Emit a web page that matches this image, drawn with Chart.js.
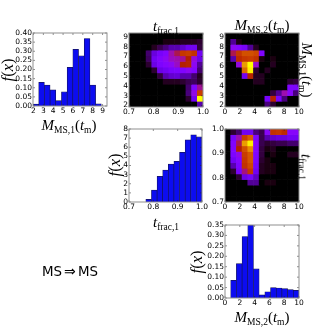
<!DOCTYPE html>
<html>
<head>
<meta charset="utf-8">
<script src="https://cdn.jsdelivr.net/npm/chart.js@4/dist/chart.umd.js"></script>
<style>
  html, body { margin: 0; padding: 0; background: #fff; overflow: hidden; }
  #page { position: relative; width: 332px; height: 332px; }
  canvas { position: absolute; left: 0; top: 0; }
  .lbl { position: absolute; white-space: nowrap; color: #000; font-family: "Liberation Serif", serif; font-size: 15px; line-height: 1; }
  .lbl i { font-style: italic; }
  .lbl sub { font-size: 9.5px; vertical-align: -3px; line-height: 0; }
  .fx { font-size: 16.5px; }
  .note { font-family: "DejaVu Sans", sans-serif; font-size: 13.4px; }
  .note span { font-family: "Liberation Serif", serif; font-size: 14px; margin: 0 2px; }
</style>
</head>
<body>
<div id="page"></div>
<script>
const binCount = 13;

// tick labels
const massTicks1 = [2, 3, 4, 5, 6, 7, 8, 9];
const massTicks2 = [0, 2, 4, 6, 8, 10];
const fracTicks = [0.7, 0.8, 0.9, 1.0];
const hist1Ticks = [0, 0.05, 0.1, 0.15, 0.2, 0.25, 0.3, 0.35, 0.4];
const hist2Ticks = [0, 1, 2, 3, 4, 5, 6, 7, 8];
const hist3Ticks = [0, 0.05, 0.1, 0.15, 0.2, 0.25, 0.3, 0.35];

// histogram heights, one per bin
const hist1Values = [0.01, 0.13, 0.115, 0.088, 0.03, 0.078, 0.212, 0.31, 0.275, 0.37, 0.115, 0.012, 0];
const hist2Values = [0, 0, 0, 0.3, 1.3, 2.8, 3.5, 4.15, 4.45, 5.45, 6.8, 7.35, 7.15];
const hist3Values = [0, 0.085, 0.165, 0.295, 0.35, 0.14, 0.015, 0.03, 0.05, 0.048, 0.045, 0.04, 0.037];

// heatmap intensities, rows listed from the top of the picture
const heatFracMass = [
  [0, 0, 0, 0, 0, 0, 0, 0, 0, 0, 0, 0, 0],
  [0, 0, 0, 0, 0, 0, 0.01, 0.01, 0.01, 0.02, 0.02, 0.02, 0.03],
  [0, 0, 0, 0, 0.02, 0.05, 0.08, 0.12, 0.12, 0.15, 0.2, 0.2, 0.04],
  [0, 0, 0, 0.07, 0.17, 0.22, 0.26, 0.38, 0.45, 0.6, 0.62, 0.58, 0.2],
  [0, 0, 0, 0.06, 0.2, 0.26, 0.3, 0.36, 0.38, 0.4, 0.5, 0.33, 0.18],
  [0, 0, 0, 0.03, 0.18, 0.24, 0.27, 0.3, 0.36, 0.5, 0.52, 0.3, 0.1],
  [0, 0, 0, 0, 0.03, 0.18, 0.2, 0.23, 0.24, 0.25, 0.3, 0.26, 0.07],
  [0, 0, 0, 0, 0, 0.04, 0.12, 0.15, 0.16, 0.12, 0.12, 0.07, 0.02],
  [0, 0, 0, 0, 0, 0, 0.02, 0.02, 0.02, 0.03, 0.05, 0.06, 0.03],
  [0, 0, 0, 0, 0, 0, 0, 0, 0, 0, 0.07, 0.25, 0.4],
  [0, 0, 0, 0, 0, 0, 0, 0, 0, 0, 0.08, 0.32, 0.62],
  [0, 0, 0, 0, 0, 0, 0, 0, 0, 0, 0.03, 0.2, 1.0],
  [0, 0, 0, 0, 0, 0, 0, 0, 0, 0, 0, 0, 0.12]
];
const heatMassMass = [
  [0, 0, 0, 0, 0, 0, 0, 0, 0, 0, 0, 0, 0],
  [0, 0.1, 0.01, 0, 0, 0, 0, 0, 0, 0, 0, 0, 0],
  [0, 0.3, 0.27, 0.22, 0.1, 0.02, 0, 0, 0, 0, 0, 0, 0],
  [0, 0.45, 0.6, 0.68, 0.68, 0.65, 0.25, 0, 0, 0, 0, 0, 0],
  [0, 0.12, 0.55, 0.6, 0.62, 0.58, 0.01, 0, 0.01, 0, 0, 0, 0],
  [0, 0, 0.33, 0.85, 1.0, 0.35, 0, 0, 0.02, 0, 0, 0, 0],
  [0, 0, 0, 0.75, 0.98, 0.03, 0, 0.02, 0, 0, 0, 0, 0],
  [0, 0, 0, 0.2, 0.52, 0.02, 0.02, 0, 0, 0, 0, 0, 0],
  [0, 0, 0, 0, 0, 0.02, 0.02, 0, 0, 0, 0, 0.03, 0.04],
  [0, 0, 0, 0, 0, 0, 0, 0, 0, 0, 0, 0.25, 0.24],
  [0, 0, 0, 0, 0, 0, 0, 0, 0.04, 0.1, 0.38, 0.28, 0.08],
  [0, 0, 0, 0, 0, 0, 0, 0.22, 0.52, 0.24, 0.08, 0, 0],
  [0, 0, 0, 0, 0, 0, 0, 0.08, 0.03, 0, 0, 0, 0]
];
const heatMassFrac = [
  [0, 0.03, 0.07, 0.2, 0.2, 0.08, 0.05, 0.28, 0.58, 0.6, 0.55, 0.28, 0.28],
  [0, 0.22, 0.38, 0.62, 0.72, 0.25, 0.05, 0.12, 0.15, 0.17, 0.17, 0.2, 0.2],
  [0, 0.25, 0.45, 0.85, 0.98, 0.28, 0.05, 0.03, 0.04, 0.05, 0.05, 0.07, 0.07],
  [0, 0.26, 0.5, 0.68, 0.82, 0.27, 0.04, 0.01, 0.02, 0, 0, 0, 0],
  [0, 0.24, 0.32, 0.62, 0.7, 0.25, 0.04, 0, 0.01, 0, 0, 0.02, 0.02],
  [0, 0.2, 0.27, 0.6, 0.7, 0.24, 0.03, 0.01, 0, 0, 0, 0, 0],
  [0, 0.12, 0.24, 0.58, 0.66, 0.22, 0.02, 0.01, 0.01, 0, 0, 0, 0],
  [0, 0.03, 0.22, 0.42, 0.6, 0.2, 0.02, 0.01, 0.01, 0, 0, 0, 0],
  [0, 0, 0.03, 0.18, 0.22, 0.14, 0, 0, 0, 0, 0, 0, 0],
  [0, 0, 0, 0, 0.1, 0.1, 0, 0.01, 0.01, 0, 0, 0, 0],
  [0, 0, 0, 0, 0, 0, 0, 0, 0, 0, 0, 0, 0],
  [0, 0, 0, 0, 0, 0, 0, 0, 0, 0, 0, 0, 0],
  [0, 0, 0, 0, 0, 0, 0, 0, 0, 0, 0, 0, 0]
];

const page = document.getElementById('page');
const barColor = '#0c0cf0';
const barEdge = '#14145a';
const frameColor = '#8f8f8f';
const tickFont = { family: '"DejaVu Sans"', size: 7.5 };

// same look as matplotlib's gnuplot map
function gnuplotColor(v) {
  const r = Math.sqrt(v);
  const g = v * v * v;
  const b = Math.max(0, Math.sin(2 * Math.PI * v));
  return `rgb(${Math.round(r * 255)},${Math.round(g * 255)},${Math.round(b * 255)})`;
}

function binCenters(min, max) {
  const step = (max - min) / binCount;
  return Array.from({ length: binCount }, (_, i) => min + step * (i + 0.5));
}

// frame and inward ticks on all four sides
const framePlugin = {
  id: 'frame',
  afterDraw(chart) {
    const { ctx, chartArea: a, scales } = chart;
    ctx.save();
    ctx.strokeStyle = '#222';
    ctx.lineWidth = 0.5;
    ctx.beginPath();
    scales.x.ticks.forEach((t, i) => {
      const x = scales.x.getPixelForTick(i);
      ctx.moveTo(x, a.bottom); ctx.lineTo(x, a.bottom - 2);
      ctx.moveTo(x, a.top); ctx.lineTo(x, a.top + 2);
    });
    scales.y.ticks.forEach((t, i) => {
      const y = scales.y.getPixelForTick(i);
      ctx.moveTo(a.left, y); ctx.lineTo(a.left + 2, y);
      ctx.moveTo(a.right, y); ctx.lineTo(a.right - 2, y);
    });
    ctx.stroke();
    ctx.strokeStyle = frameColor;
    ctx.lineWidth = 1;
    ctx.strokeRect(a.left, a.top, a.right - a.left, a.bottom - a.top);
    ctx.restore();
  }
};

function axis(range, ticks, fmt, isY) {
  return {
    type: 'linear',
    min: range[0],
    max: range[1],
    offset: false,
    grid: { display: false, drawTicks: false },
    border: { display: false },
    afterBuildTicks: s => { s.ticks = ticks.map(v => ({ value: v })); },
    afterFit: s => { if (isY) s.width = 24; else s.height = 14; },
    ticks: {
      autoSkip: false,
      maxRotation: 0,
      padding: 1,
      color: '#000',
      font: tickFont,
      callback: fmt
    }
  };
}

function makeChart(box, datasets, xAxis, yAxis) {
  const canvas = document.createElement('canvas');
  canvas.width = 332;
  canvas.height = 332;
  page.appendChild(canvas);
  return new Chart(canvas, {
    type: 'bar',
    data: { datasets },
    options: {
      responsive: false,
      animation: false,
      devicePixelRatio: 1,
      layout: {
        padding: {
          left: box[0] - 24,
          top: box[1],
          right: 332 - box[2],
          bottom: 332 - box[3] - 14
        }
      },
      plugins: { legend: { display: false }, tooltip: { enabled: false } },
      scales: { x: xAxis, y: yAxis }
    },
    plugins: [framePlugin]
  });
}

function histogram(box, values, xRange, xTicks, xFmt, yMax, yTicks, yFmt) {
  const centers = binCenters(xRange[0], xRange[1]);
  const ds = {
    data: values.map((v, i) => ({ x: centers[i], y: v })),
    backgroundColor: barColor,
    borderColor: barEdge,
    borderWidth: 0.7,
    barPercentage: 1,
    categoryPercentage: 1
  };
  makeChart(box, [ds], axis(xRange, xTicks, xFmt, false), axis([0, yMax], yTicks, yFmt, true));
}

function heatmap(box, rows, xRange, xTicks, xFmt, yRange, yTicks, yFmt) {
  const centers = binCenters(xRange[0], xRange[1]);
  const rowH = (yRange[1] - yRange[0]) / binCount;
  const datasets = rows.map((row, r) => {
    const hi = yRange[1] - r * rowH;
    return {
      data: row.map((v, c) => ({ x: centers[c], y: [hi - rowH, hi] })),
      backgroundColor: row.map(gnuplotColor),
      borderWidth: 0,
      grouped: false,
      barPercentage: 1,
      categoryPercentage: 1
    };
  });
  makeChart(box, datasets, axis(xRange, xTicks, xFmt, false), axis(yRange, yTicks, yFmt, true));
}

const plain = v => String(v);
const oneDec = v => v.toFixed(1);
const twoDec = v => v.toFixed(2);

const histMass1Range = [1.95, 9.45];
const heatMass1Range = [1.85, 9.4];
const mass2Range = [0, 10];
const fracRange = [0.7, 1.0];

histogram([33, 33, 107, 106], hist1Values, histMass1Range, massTicks1, plain, 0.4, hist1Ticks, twoDec);
heatmap([129, 33, 203, 107], heatFracMass, fracRange, fracTicks, oneDec, heatMass1Range, massTicks1, plain);
heatmap([225, 33, 299, 107], heatMassMass, mass2Range, massTicks2, plain, heatMass1Range, massTicks1, plain);
histogram([129, 129, 202, 202], hist2Values, fracRange, fracTicks, oneDec, 8, hist2Ticks, plain);
heatmap([225, 129, 299, 202], heatMassFrac, mass2Range, massTicks2, plain, fracRange, fracTicks, oneDec);
histogram([225, 225, 299, 298], hist3Values, mass2Range, massTicks2, plain, 0.35, hist3Ticks, twoDec);

// axis titles, kept as real text
const massText = n => `<i>M</i><sub>MS,${n}</sub>(<i>t</i><sub>m</sub>)`;
const fracText = '<i>t</i><sub>frac,1</sub>';
const fxText = '<span class="fx"><i>f</i>(<i>x</i>)</span>';
const labels = [
  [massText(1), 69, 125, 0],
  [fxText, 8, 70, -90],
  [fracText, 166, 26, 0],
  [massText(2), 262, 25, 0],
  [massText(1), 306, 70, 90],
  [fxText, 115, 165, -90],
  [fracText, 166, 222, 0],
  [fracText, 306, 167, 90],
  [fxText, 197, 262, -90],
  [massText(2), 262, 317, 0]
];
labels.forEach(([html, x, y, rot]) => {
  const el = document.createElement('div');
  el.className = 'lbl';
  el.innerHTML = html;
  el.style.left = x + 'px';
  el.style.top = y + 'px';
  el.style.transform = `translate(-50%,-50%) rotate(${rot}deg)`;
  page.appendChild(el);
});

const note = document.createElement('div');
note.className = 'lbl note';
note.innerHTML = 'MS<span>\u21D2</span>MS';
note.style.left = '70px';
note.style.top = '272px';
note.style.transform = 'translate(-50%,-50%)';
page.appendChild(note);
</script>
</body>
</html>
